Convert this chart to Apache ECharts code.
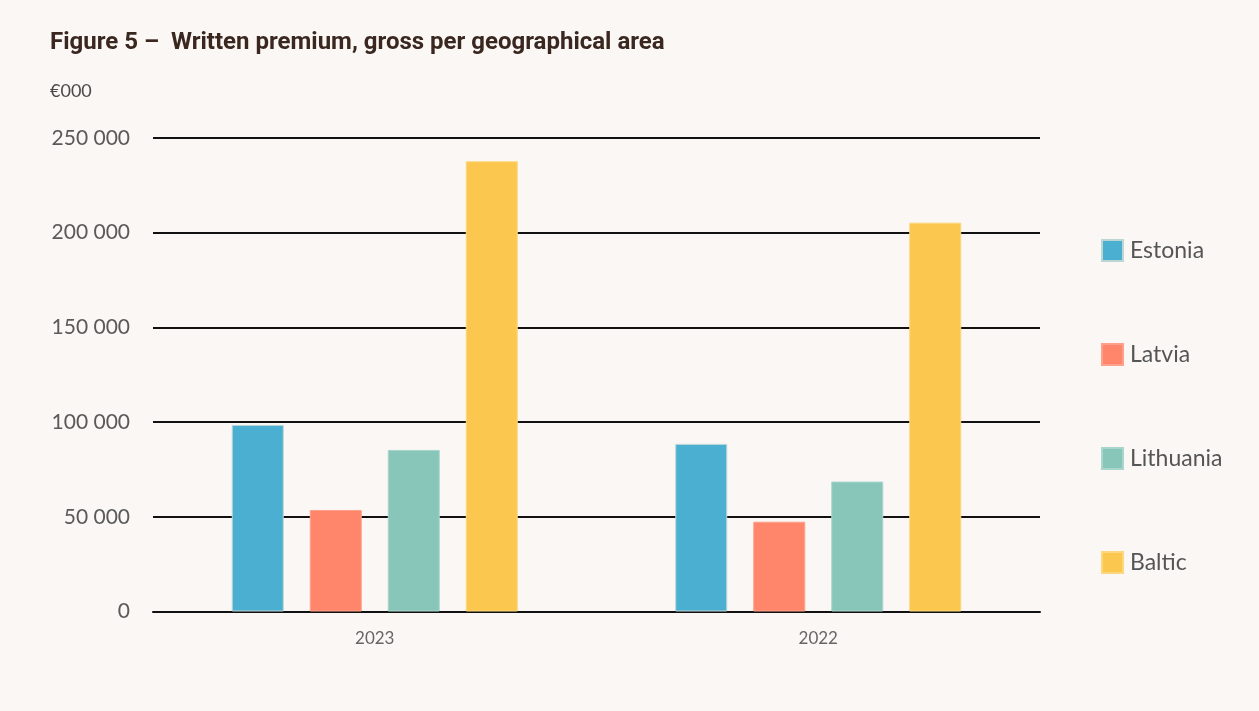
<!DOCTYPE html>
<html>
<head>
<meta charset="utf-8">
<script src="https://cdn.jsdelivr.net/npm/echarts@6/dist/echarts.min.js"></script>
<style>
  html, body { margin: 0; padding: 0; background: #faf7f4; }
  #chart { width: 1259px; height: 711px; }
</style>
</head>
<body>
<div id="chart"></div>
<script>
var years = ['2023', '2022'];
var estonia = [98500, 88500];
var latvia = [53600, 47400];
var lithuania = [85300, 68600];
var baltic = [237700, 205300];
var yTicks = [0, 50000, 100000, 150000, 200000, 250000];

var colors = {
	Estonia: '#4bafd2',
	Latvia: '#ff866a',
	Lithuania: '#88c6b9',
	Baltic: '#fbc74f'
};

var myChart = echarts.init(document.getElementById('chart'));

function fmt(v) {
	return String(v).replace(/\B(?=(\d{3})+(?!\d))/g, ' ');
}

function makeSeries(name, data, border) {
	return {
		name: name,
		type: 'bar',
		data: data,
		barWidth: 52,
		barGap: '50%',
		itemStyle: {
			color: colors[name],
			borderColor: border,
			borderWidth: 1
		}
	};
}

var option = {
	backgroundColor: '#faf7f4',
	textStyle: { fontFamily: 'Lato, sans-serif' },
	title: [{
		text: 'Figure 5 \u2013  Written premium, gross per geographical area',
		left: 45,
		top: 26,
		textStyle: {
			fontFamily: 'Roboto, sans-serif',
			fontSize: 24,
			fontWeight: 'bold',
			color: '#3a2820'
		}
	}, {
		text: '\u20ac000',
		left: 45,
		top: 77,
		textStyle: {
			fontFamily: 'Lato, sans-serif',
			fontSize: 18,
			fontWeight: 'normal',
			color: '#4a4a4a'
		}
	}],
	legend: {
		orient: 'vertical',
		left: 1096,
		top: 234,
		itemWidth: 21,
		itemHeight: 21,
		itemGap: 81,
		icon: 'rect',
		textStyle: { fontSize: 23, color: '#555', fontFamily: 'Lato, sans-serif', padding: [0, 0, 0, 2] },
		data: ['Estonia', 'Latvia', 'Lithuania', 'Baltic']
	},
	grid: {
		left: 153,
		right: 219,
		top: 138,
		bottom: 99.5,
		containLabel: false
	},
	xAxis: {
		type: 'category',
		data: years,
		axisLine: { lineStyle: { color: '#111', width: 2 } },
		axisTick: { show: false },
		axisLabel: { fontSize: 17, color: '#666', margin: 19 }
	},
	yAxis: {
		type: 'value',
		min: yTicks[0],
		max: yTicks[yTicks.length - 1],
		interval: yTicks[1] - yTicks[0],
		axisLine: { show: false },
		axisTick: { show: false },
		axisLabel: { fontSize: 21, color: '#5a5a5a', margin: 23, formatter: fmt },
		splitLine: { lineStyle: { color: '#111', width: 2 } }
	},
	series: [
		makeSeries('Estonia', estonia, '#bcd6d6'),
		makeSeries('Latvia', latvia, '#ffa08a'),
		makeSeries('Lithuania', lithuania, '#a8d6cc'),
		makeSeries('Baltic', baltic, '#fcd77d')
	]
};

myChart.setOption(option);
</script>
</body>
</html>
